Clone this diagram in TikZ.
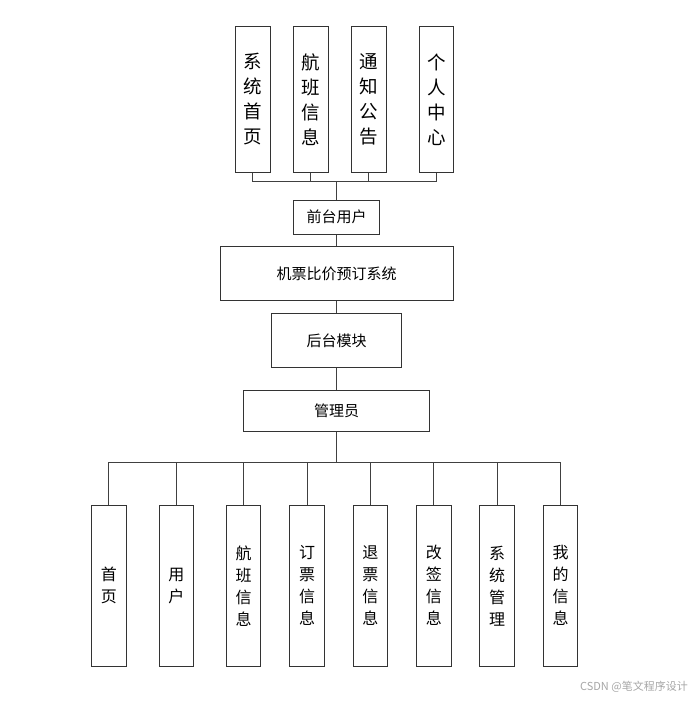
\documentclass[tikz,border=0pt]{standalone}
\usepackage{fontspec}
\newfontfamily\cjk{Noto Sans CJK SC}
\begin{document}
\begin{tikzpicture}[x=1pt,y=-1pt,
  box/.style={draw=black!80,line width=1pt,fill=white,inner sep=0pt,anchor=north west},
  vtop/.style={box,minimum width=34.5pt,minimum height=145pt,align=center,font=\cjk\fontsize{18.5}{25}\selectfont},
  vbot/.style={box,minimum width=34.5pt,minimum height=161.5pt,align=center,font=\cjk\fontsize{16}{22}\selectfont},
  hbox/.style={box,anchor=north,font=\cjk\fontsize{15}{18}\selectfont},
  link/.style={draw=black!75,line width=1.2pt}]
\useasboundingbox (0,0) rectangle (694,701);
% top modules
\node[vtop] (t1) at (235,26.5) {系\\统\\首\\页};
\node[vtop] (t2) at (293,26.5) {航\\班\\信\\息};
\node[vtop] (t3) at (351,26.5) {通\\知\\公\\告};
\node[vtop] (t4) at (418.5,26.5) {个\\人\\中\\心};
% middle chain
\node[hbox,minimum width=86.5pt,minimum height=34pt] (front) at (336.7,199.5) {前台用户};
\node[hbox,minimum width=233pt,minimum height=54pt] (sys) at (336.7,246) {机票比价预订系统};
\node[hbox,minimum width=129.5pt,minimum height=54pt] (back) at (336.7,313) {后台模块};
\node[hbox,minimum width=186pt,minimum height=41.5pt] (admin) at (336.7,389.5) {管理员};
% bottom modules
\node[vbot] (b1) at (91,504.5) {首\\页};
\node[vbot] (b2) at (158.5,504.5) {用\\户};
\node[vbot] (b3) at (225.8,504.5) {航\\班\\信\\息};
\node[vbot] (b4) at (289.4,504.5) {订\\票\\信\\息};
\node[vbot] (b5) at (352.5,504.5) {退\\票\\信\\息};
\node[vbot] (b6) at (416,504.5) {改\\签\\信\\息};
\node[vbot] (b7) at (479.4,504.5) {系\\统\\管\\理};
\node[vbot] (b8) at (542.8,504.5) {我\\的\\信\\息};
% junctions
\coordinate (tj) at (336.7,181.7);
\coordinate (bj) at (336.7,462.7);
% connectors
\foreach \n in {t1,t2,t3,t4} \draw[link] (\n.south) |- (tj);
\draw[link] (tj) -- (front.north);
\draw[link] (front.south) -- (sys.north);
\draw[link] (sys.south) -- (back.north);
\draw[link] (back.south) -- (admin.north);
\draw[link] (admin.south) -- (bj);
\foreach \n in {b1,b2,b3,b4,b5,b6,b7,b8} \draw[link] (\n.north) |- (bj);
% watermark
\node[anchor=east,text=black!35,font=\cjk\fontsize{11}{13}\selectfont,inner sep=0pt] (wm) at (688,687) {CSDN @笔文程序设计};
\end{tikzpicture}
\end{document}
